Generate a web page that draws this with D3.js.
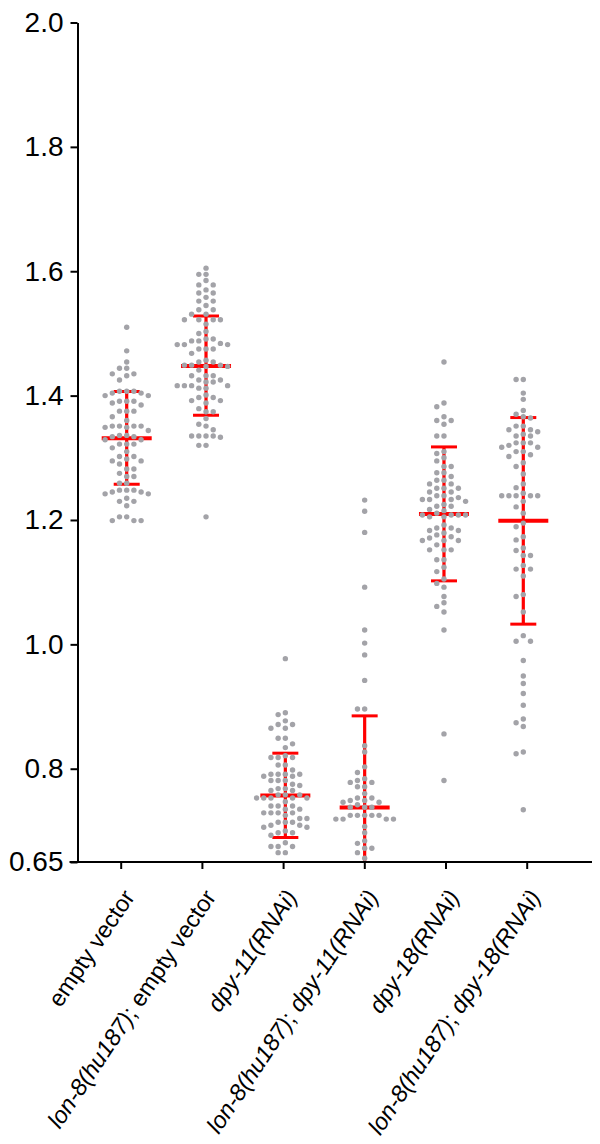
<!DOCTYPE html>
<html>
<head>
<meta charset="utf-8">
<script src="https://cdn.jsdelivr.net/npm/d3@7"></script>
<style>
  body { margin: 0; background: #fff; }
  text { font-family: Arial, "Liberation Sans", sans-serif; fill: #000; }
</style>
</head>
<body>
<svg id="plot" width="600" height="1144"></svg>
<script>
// Categories, in order along the x axis
var groups = [
  "empty vector",
  "lon-8(hu187); empty vector",
  "dpy-11(RNAi)",
  "lon-8(hu187); dpy-11(RNAi)",
  "dpy-18(RNAi)",
  "lon-8(hu187); dpy-18(RNAi)"
];

var emptyVector = [1.510, 1.472, 1.454, 1.444, 1.444, 1.435, 1.435, 1.432, 1.425, 1.407, 1.407,
  1.407, 1.404, 1.404, 1.400, 1.400, 1.391, 1.391, 1.391, 1.388, 1.385, 1.375, 1.375, 1.375,
  1.366, 1.360, 1.351, 1.351, 1.351, 1.351, 1.349, 1.349, 1.344, 1.336, 1.336, 1.334, 1.334,
  1.329, 1.329, 1.322, 1.322, 1.322, 1.316, 1.310, 1.302, 1.302, 1.298, 1.295, 1.295, 1.290,
  1.282, 1.282, 1.275, 1.270, 1.270, 1.259, 1.259, 1.248, 1.248, 1.248, 1.245, 1.245, 1.242,
  1.242, 1.235, 1.230, 1.230, 1.223, 1.205, 1.205, 1.199, 1.199, 1.199];

var lon8Empty = [1.605, 1.595, 1.595, 1.585, 1.578, 1.578, 1.570, 1.565, 1.565, 1.558, 1.552,
  1.552, 1.545, 1.538, 1.538, 1.531, 1.531, 1.522, 1.522, 1.522, 1.522, 1.515, 1.503, 1.500,
  1.491, 1.491, 1.488, 1.488, 1.484, 1.482, 1.482, 1.482, 1.475, 1.475, 1.475, 1.468, 1.457,
  1.454, 1.454, 1.449, 1.449, 1.449, 1.447, 1.447, 1.441, 1.432, 1.432, 1.432, 1.425, 1.425,
  1.422, 1.422, 1.416, 1.416, 1.416, 1.416, 1.412, 1.412, 1.401, 1.397, 1.397, 1.392, 1.392,
  1.388, 1.379, 1.374, 1.374, 1.363, 1.354, 1.351, 1.345, 1.335, 1.335, 1.335, 1.335, 1.333,
  1.320, 1.320, 1.205];

var dpy11 = [0.977, 0.890, 0.887, 0.877, 0.871, 0.871, 0.865, 0.865, 0.849, 0.849, 0.840,
  0.834, 0.821, 0.818, 0.818, 0.818, 0.806, 0.806, 0.798, 0.791, 0.791, 0.791, 0.791, 0.788,
  0.788, 0.781, 0.781, 0.781, 0.775, 0.773, 0.768, 0.768, 0.765, 0.765, 0.758, 0.758, 0.758,
  0.753, 0.753, 0.753, 0.753, 0.753, 0.747, 0.740, 0.740, 0.740, 0.735, 0.735, 0.729, 0.729,
  0.729, 0.729, 0.725, 0.720, 0.720, 0.714, 0.714, 0.714, 0.709, 0.709, 0.706, 0.706, 0.700,
  0.697, 0.697, 0.693, 0.681, 0.675, 0.675, 0.675, 0.665, 0.665];

var lon8Dpy11 = [1.232, 1.214, 1.180, 1.092, 1.023, 1.002, 0.983, 0.942, 0.896, 0.896, 0.837,
  0.827, 0.803, 0.794, 0.784, 0.781, 0.778, 0.778, 0.771, 0.771, 0.760, 0.753, 0.753, 0.749,
  0.749, 0.746, 0.746, 0.742, 0.738, 0.738, 0.738, 0.725, 0.725, 0.725, 0.725, 0.725, 0.719,
  0.719, 0.719, 0.719, 0.707, 0.697, 0.684, 0.680, 0.672, 0.672, 0.665, 0.656];

var dpy18 = [1.454, 1.388, 1.382, 1.366, 1.360, 1.360, 1.354, 1.335, 1.335, 1.310, 1.307,
  1.300, 1.295, 1.286, 1.286, 1.276, 1.276, 1.270, 1.264, 1.264, 1.258, 1.258, 1.251, 1.251,
  1.251, 1.245, 1.245, 1.239, 1.239, 1.236, 1.233, 1.233, 1.233, 1.230, 1.225, 1.222, 1.222,
  1.217, 1.215, 1.211, 1.208, 1.208, 1.208, 1.208, 1.205, 1.205, 1.192, 1.187, 1.187, 1.183,
  1.183, 1.179, 1.176, 1.173, 1.171, 1.167, 1.167, 1.167, 1.160, 1.152, 1.152, 1.152, 1.136,
  1.136, 1.124, 1.117, 1.105, 1.098, 1.092, 1.077, 1.067, 1.061, 1.052, 1.023, 0.856, 0.781];

var lon8Dpy18 = [1.426, 1.426, 1.404, 1.394, 1.376, 1.370, 1.366, 1.364, 1.351, 1.351, 1.345,
  1.345, 1.342, 1.338, 1.335, 1.335, 1.324, 1.324, 1.324, 1.320, 1.317, 1.317, 1.310, 1.310,
  1.305, 1.302, 1.292, 1.286, 1.274, 1.258, 1.252, 1.243, 1.239, 1.239, 1.239, 1.239, 1.239,
  1.230, 1.221, 1.211, 1.195, 1.189, 1.173, 1.168, 1.155, 1.151, 1.143, 1.143, 1.127, 1.121,
  1.121, 1.110, 1.080, 1.077, 1.052, 1.014, 1.005, 1.005, 0.974, 0.949, 0.937, 0.921, 0.902,
  0.880, 0.874, 0.868, 0.827, 0.824, 0.734];

var groupValues = [emptyVector, lon8Empty, dpy11, lon8Dpy11, dpy18, lon8Dpy18];

// Mean and mean +/- SD bars as drawn in the picture
var groupMean  = [1.3315, 1.4477, 0.7570, 0.7375, 1.2098, 1.1986];
var groupUpper = [1.4065, 1.5280, 0.8250, 0.8850, 1.3175, 1.3647];
var groupLower = [1.2575, 1.3685, 0.6894, 0.5900, 1.1021, 1.0325];

var yTicks = [0.65, 0.8, 1.0, 1.2, 1.4, 1.6, 1.8, 2.0];

// Layout
var svg = d3.select('#plot');
var axisLeftX = 77.5;
var axisRightX = 592;
var axisBottomY = 862;
var colStep = 7.2;
var dotR = 2.7;

var yScale = d3.scaleLinear()
  .domain([0.65, 2.0])
  .range([axisBottomY, 22.5]);

// tick positions on the axis
var xAxisScale = d3.scalePoint()
  .domain(groups)
  .range([120.7, 526.7]);

// the scatter columns sit slightly off the ticks in the original figure
var xData = d3.scalePoint()
  .domain(groups)
  .range([126.7, 523.3]);

// clip so the long SD bar stops at the x axis
svg.append('clipPath')
  .attr('id', 'plotArea')
  .append('rect')
  .attr('x', axisLeftX)
  .attr('y', 0)
  .attr('width', 600 - axisLeftX)
  .attr('height', axisBottomY);

/* simple column beeswarm: sort values and push each dot to the nearest free column */
function swarm(values, cx) {
  var placed = [];
  var sorted = values.slice().sort(function (a, b) { return b - a; });
  return sorted.map(function (v) {
    var y = yScale(v);
    for (var i = 0; ; i++) {
      var k = i === 0 ? 0 : (i % 2 ? -Math.ceil(i / 2) : Math.ceil(i / 2));
      var hit = placed.some(function (p) { return p.k === k && Math.abs(p.y - y) < 5.6; });
      if (!hit) {
        placed.push({ k: k, y: y });
        return { x: cx + k * colStep, y: y };
      }
    }
  });
}

var plot = svg.append('g').attr('clip-path', 'url(#plotArea)');

// Error bars (drawn under the dots)
var bars = plot.selectAll('g.bar')
  .data(groups)
  .enter()
  .append('g')
  .attr('class', 'bar');

bars.append('line')
  .attr('x1', function (d) { return xData(d); })
  .attr('x2', function (d) { return xData(d); })
  .attr('y1', function (d, i) { return yScale(groupUpper[i]); })
  .attr('y2', function (d, i) { return yScale(groupLower[i]); })
  .attr('stroke', '#ff0000')
  .attr('stroke-width', 3.2);

bars.append('line')
  .attr('x1', function (d) { return xData(d) - 13; })
  .attr('x2', function (d) { return xData(d) + 13; })
  .attr('y1', function (d, i) { return yScale(groupUpper[i]); })
  .attr('y2', function (d, i) { return yScale(groupUpper[i]); })
  .attr('stroke', '#ff0000')
  .attr('stroke-width', 3);

bars.append('line')
  .attr('x1', function (d) { return xData(d) - 13; })
  .attr('x2', function (d) { return xData(d) + 13; })
  .attr('y1', function (d, i) { return yScale(groupLower[i]); })
  .attr('y2', function (d, i) { return yScale(groupLower[i]); })
  .attr('stroke', '#ff0000')
  .attr('stroke-width', 3);

bars.append('line')
  .attr('x1', function (d) { return xData(d) - 25; })
  .attr('x2', function (d) { return xData(d) + 25; })
  .attr('y1', function (d, i) { return yScale(groupMean[i]); })
  .attr('y2', function (d, i) { return yScale(groupMean[i]); })
  .attr('stroke', '#ff0000')
  .attr('stroke-width', 4);

// Dots
groups.forEach(function (g, i) {
  plot.append('g')
    .selectAll('circle')
    .data(swarm(groupValues[i], xData(g)))
    .enter()
    .append('circle')
    .attr('cx', function (d) { return d.x; })
    .attr('cy', function (d) { return d.y; })
    .attr('r', dotR)
    .attr('fill', '#a3a3a8');
});

// Y axis
var yAxis = d3.axisLeft(yScale)
  .tickValues(yTicks)
  .tickFormat(function (d) { return d === 0.65 ? '0.65' : d3.format('.1f')(d); })
  .tickSize(7)
  .tickPadding(7)
  .tickSizeOuter(0);

var yG = svg.append('g')
  .attr('transform', 'translate(' + axisLeftX + ',0)')
  .call(yAxis);
yG.select('.domain').attr('stroke', '#000').attr('stroke-width', 2);
yG.selectAll('.tick line').attr('stroke', '#000').attr('stroke-width', 2);
yG.selectAll('.tick text')
  .attr('font-size', 28)
  .attr('font-family', 'Arial, "Liberation Sans", sans-serif')
  .attr('fill', '#000');

// X axis: ticks only, then a longer baseline
var xG = svg.append('g')
  .attr('transform', 'translate(0,' + axisBottomY + ')')
  .call(d3.axisBottom(xAxisScale).tickSize(7).tickFormat(''));
xG.select('.domain').remove();
xG.selectAll('.tick line').attr('stroke', '#000').attr('stroke-width', 2);

svg.append('line')
  .attr('x1', axisLeftX - 8)
  .attr('x2', axisRightX)
  .attr('y1', axisBottomY)
  .attr('y2', axisBottomY)
  .attr('stroke', '#000')
  .attr('stroke-width', 2);

// Rotated category labels; genotype / RNAi parts in italics
var italicPart = /(lon-8\(hu187\)|dpy-\d+\(RNAi\))/;

var labels = svg.append('g')
  .selectAll('text')
  .data(groups)
  .enter()
  .append('text')
  .attr('text-anchor', 'end')
  .attr('font-size', 23.5)
  .attr('transform', function (d) {
    return 'translate(' + (xAxisScale(d) + 15) + ',' + 897 + ') rotate(-56)';
  });

labels.each(function (d) {
  var t = d3.select(this);
  d.split(italicPart).filter(function (s) { return s.length; }).forEach(function (s) {
    t.append('tspan')
      .attr('font-style', italicPart.test(s) ? 'italic' : 'normal')
      .text(s);
  });
});
</script>
</body>
</html>
